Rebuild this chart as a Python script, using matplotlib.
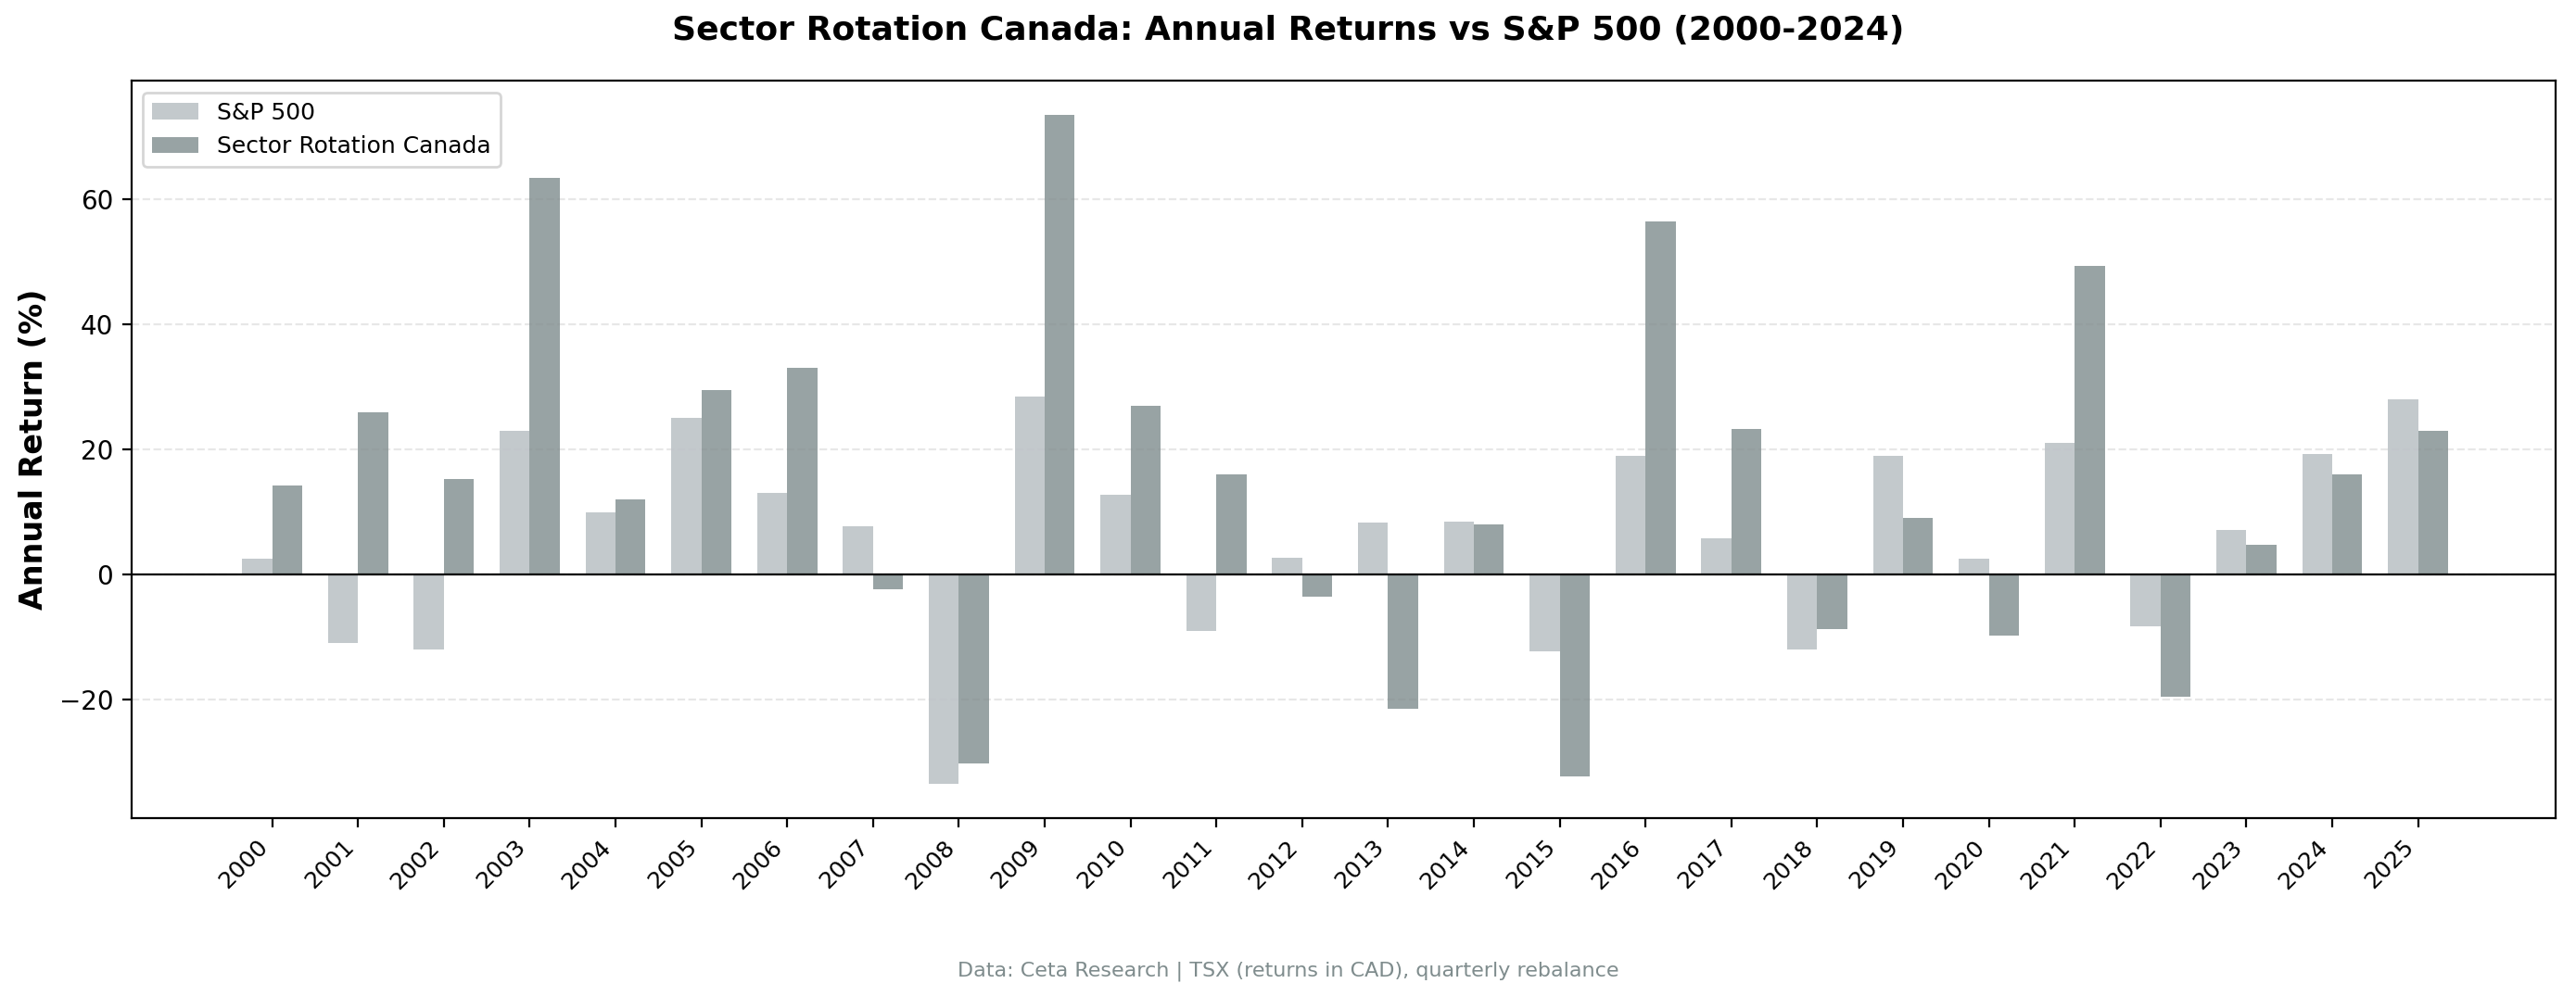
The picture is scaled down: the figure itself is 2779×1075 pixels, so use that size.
import matplotlib
matplotlib.use("Agg")
import matplotlib.pyplot as plt
import numpy as np

years = [str(y) for y in range(2000, 2026)]
sp500 = [2.5, -11, -12, 23, 10, 25, 13, 7.7, -33.5, 28.5, 12.8, -9, 2.7, 8.3, 8.5, -12.3,
         19, 5.8, -12, 19, 2.5, 21, -8.3, 7.2, 19.3, 28]
src = [14.3, 26, 15.3, 63.5, 12, 29.5, 33, -2.3, -30.2, 73.5, 27, 16, -3.5, -21.5, 8, -32.3,
       56.5, 23.3, -8.8, 9, -9.8, 49.3, -19.5, 4.8, 16, 23]

fig = plt.figure(figsize=(13.895, 5.375), dpi=200)
ax = fig.add_axes([0.051, 0.179, 0.941, 0.74])
x = np.arange(len(years))
w = 0.35
ax.bar(x - w/2, sp500, w, color='#bdc3c7', alpha=0.9, label='S&P 500')
ax.bar(x + w/2, src, w, color='#7f8c8d', alpha=0.8, label='Sector Rotation Canada')
ax.axhline(0, color='black', linewidth=0.8)
ax.set_xticks(x)
ax.set_xticklabels(years, rotation=45, ha='right', fontsize=9)
ax.set_xlim(-1.64, 26.6)
ax.set_ylim(-38.9, 79)
ax.set_yticks([-20, 0, 20, 40, 60])
ax.yaxis.grid(True, linestyle='--', alpha=0.3)
ax.set_axisbelow(True)
ax.set_ylabel('Annual Return (%)', fontsize=12, fontweight='bold')
ax.legend(loc='upper left', fontsize=9)
fig.suptitle('Sector Rotation Canada: Annual Returns vs S&P 500 (2000-2024)',
             fontsize=13, fontweight='bold', y=0.985)
fig.text(0.5, 0.02, 'Data: Ceta Research | TSX (returns in CAD), quarterly rebalance',
         ha='center', fontsize=8, color='#7f8c8d')
fig.savefig('out.png', dpi=200)
